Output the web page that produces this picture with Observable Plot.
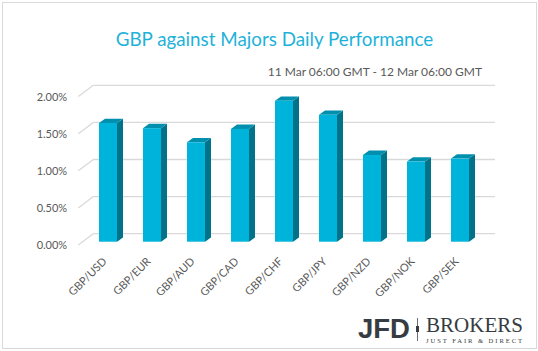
<!DOCTYPE html>
<html>
<head>
<meta charset="utf-8">
<script src="https://cdn.jsdelivr.net/npm/d3@7"></script>
<script src="https://cdn.jsdelivr.net/npm/@observablehq/plot@0.6"></script>
<style>
  html, body { margin: 0; padding: 0; background: #fff; }
  #page { position: relative; width: 538px; height: 351px; overflow: hidden; font-family: Lato, "Open Sans", sans-serif; }
  #frame { position: absolute; left: 2px; top: 2px; width: 533px; height: 345px; border: 1px solid #d9d9d9; }
  #title { position: absolute; left: 0; width: 549px; top: 27px; text-align: center; font-size: 18.8px; color: #1eb2d9; white-space: nowrap; }
  #subtitle { position: absolute; right: 56px; top: 64px; font-size: 12px; color: #595959; white-space: nowrap; }
  #chart { position: absolute; left: 0; top: 80px; }
  #logo { position: absolute; left: 0; top: 300px; }
</style>
</head>
<body>
<div id="page">
  <div id="frame"></div>
  <div id="title">GBP against Majors Daily Performance</div>
  <div id="subtitle">11 Mar 06:00 GMT - 12 Mar 06:00 GMT</div>
  <div id="chart"></div>
  <svg id="logo" width="538" height="51">
    <text x="358" y="38" font-family="Liberation Sans, Arial, sans-serif" font-weight="bold" font-size="27" fill="#363c42" textLength="52" lengthAdjust="spacingAndGlyphs">JFD</text>
    <line x1="417.5" y1="18" x2="417.5" y2="41" stroke="#6b6f73" stroke-width="1"/>
    <rect x="416" y="26" width="3" height="6" fill="#363c42"/>
    <text x="426" y="31.9" font-family="Liberation Serif, Times New Roman, serif" font-size="21.5" fill="#363c42" textLength="97" lengthAdjust="spacingAndGlyphs">BROKERS</text>
    <text x="426" y="42.5" font-family="Liberation Serif, Times New Roman, serif" font-size="6.6" fill="#363c42" textLength="96" lengthAdjust="spacing">JUST FAIR &amp; DIRECT</text>
  </svg>
</div>
<script>
const pairs = ["GBP/USD", "GBP/EUR", "GBP/AUD", "GBP/CAD", "GBP/CHF", "GBP/JPY", "GBP/NZD", "GBP/NOK", "GBP/SEK"];
const performance = [1.60, 1.53, 1.34, 1.52, 1.90, 1.71, 1.17, 1.08, 1.12];
const yTicks = [0, 0.5, 1.0, 1.5, 2.0];

const table = pairs.map((p, i) => ({pair: p, value: performance[i]}));

// 3D depth offsets (pixels)
const barDx = 6, barDy = 4.3;
const wallFront = {dx: -15, dy: 3.3};
const wallBack = {dx: 0, dy: -8};

function grid(index, {x, y}, values, dims) {
  const g = d3.create("svg:g");
  const x0 = 93.3, x1 = 495;
  for (const t of yTicks) {
    const yy = y(t);
    g.append("line").attr("x1", x0 + wallFront.dx).attr("y1", yy + wallFront.dy)
      .attr("x2", x0).attr("y2", yy + wallBack.dy)
      .attr("stroke", "#d9d9d9").attr("stroke-width", 1.3);
    g.append("line").attr("x1", x0).attr("y1", yy + wallBack.dy)
      .attr("x2", x1).attr("y2", yy + wallBack.dy)
      .attr("stroke", "#d9d9d9").attr("stroke-width", 1.3);
  }
  return g.node();
}

function bars3d(index, {x, y}, values, dims) {
  const g = d3.create("svg:g");
  const bw = x.bandwidth();
  for (const d of table) {
    const l = x(d.pair), r = l + bw;
    const yt = y(d.value), yb = y(0);
    g.append("polygon")
      .attr("points", [[r, yb], [r + barDx, yb - barDy], [r + barDx, yt - barDy], [r, yt]].map(p => p.join(",")).join(" "))
      .attr("fill", "#00738b");
    g.append("polygon")
      .attr("points", [[l, yt], [l + barDx, yt - barDy], [r + barDx, yt - barDy], [r, yt]].map(p => p.join(",")).join(" "))
      .attr("fill", "#0090ad");
    g.append("rect").attr("x", l).attr("y", yt).attr("width", bw).attr("height", yb - yt)
      .attr("fill", "#00b3db");
  }
  return g.node();
}

const chart = Plot.plot({
  width: 538,
  height: 225,
  marginTop: 13.3,
  marginBottom: 63.3,
  marginLeft: 69.7,
  marginRight: 40.1,
  style: {fontFamily: "Lato, 'Open Sans', sans-serif", color: "#595959", background: "transparent"},
  x: {type: "band", domain: pairs, padding: 0.6, align: 0.5, axis: null},
  y: {domain: [0, 2], axis: null},
  marks: [
    grid,
    bars3d,
    Plot.axisY(yTicks, {tickSize: 0, tickPadding: 3, dy: 3.3, fontSize: 11, fill: "#595959",
      tickFormat: d => d.toFixed(2) + "%"}),
    Plot.text(table, {x: "pair", y: () => 0, text: "pair", rotate: -45, textAnchor: "end",
      dx: -3.5, dy: 17.5, fontSize: 11, fill: "#595959"})
  ]
});
document.getElementById("chart").appendChild(chart);
</script>
</body>
</html>
